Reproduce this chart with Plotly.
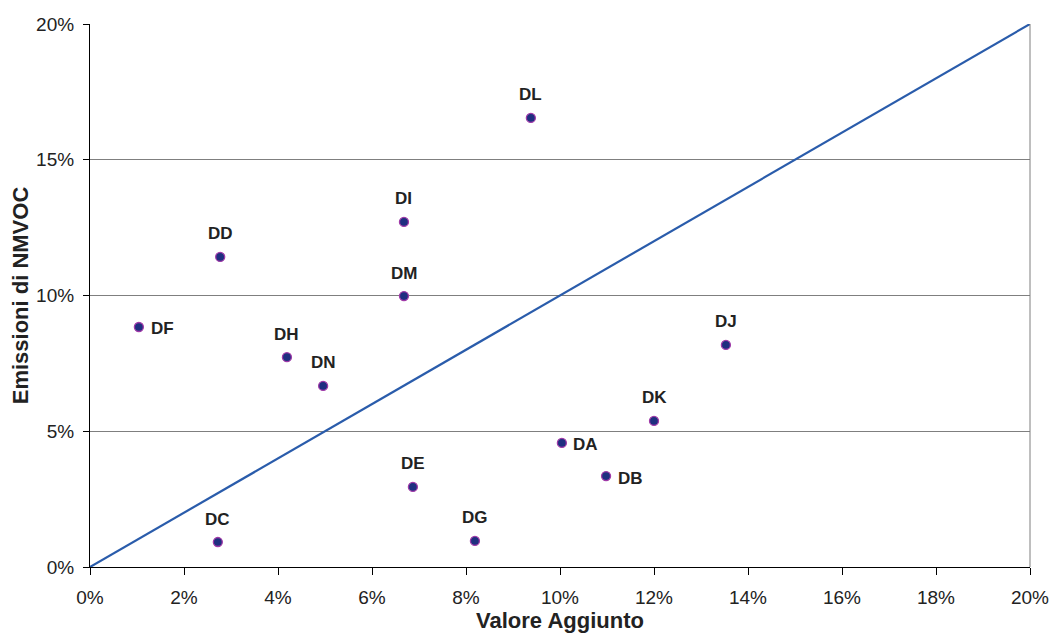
import plotly.graph_objects as go

sectors = ["DL", "DI", "DD", "DM", "DF", "DH", "DN", "DJ", "DK", "DA", "DB", "DE", "DG", "DC"]
valore_aggiunto = [0.0938, 0.0668, 0.0277, 0.0668, 0.0104, 0.0419, 0.0496, 0.1353, 0.1200, 0.1004, 0.1098, 0.0687, 0.0819, 0.0272]
emissioni_nmvoc = [0.1654, 0.1271, 0.1142, 0.0998, 0.0884, 0.0773, 0.0667, 0.0818, 0.0538, 0.0457, 0.0335, 0.0295, 0.0096, 0.0092]
label_side = ["top", "top", "top", "top", "right", "top", "top", "top", "top", "right", "right", "top", "top", "top"]

fig = go.Figure()

fig.add_trace(go.Scatter(
    x=[0, 0.2], y=[0, 0.2], mode="lines",
    line=dict(color="#2a5cab", width=2.2), hoverinfo="skip", showlegend=False,
))

fig.add_trace(go.Scatter(
    x=valore_aggiunto, y=emissioni_nmvoc, mode="markers",
    marker=dict(size=9, color="#1f2f80", line=dict(color="#a03aa8", width=1.3)),
    showlegend=False,
))

for name, xv, yv, side in zip(sectors, valore_aggiunto, emissioni_nmvoc, label_side):
    if side == "top":
        xs, ys = 0, 23
    else:
        xs, ys = 24, -2
    fig.add_annotation(x=xv, y=yv, text="<b>" + name + "</b>", showarrow=False, xshift=xs, yshift=ys,
                       font=dict(family="Liberation Sans, Arial", size=17, color="#222222"))

fig.add_shape(type="line", xref="paper", yref="paper", x0=1, x1=1, y0=0, y1=1,
              line=dict(color="#7f7f7f", width=1))

fig.update_layout(
    autosize=True,
    margin=dict(l=90, r=22, t=24, b=66, autoexpand=False),
    paper_bgcolor="white", plot_bgcolor="white",
    font=dict(family="Liberation Sans, Arial", color="#222222"),
)

fig.update_xaxes(
    range=[0, 0.2], dtick=0.02, tickformat=".0%", automargin=False,
    showgrid=False, zeroline=False,
    showline=True, linecolor="#000000", linewidth=1.2,
    ticks="outside", ticklen=7, tickcolor="#000000",
    ticklabelstandoff=6,
    tickfont=dict(size=19, color="#222222"),
    title=dict(text="<b>Valore Aggiunto</b>", font=dict(size=22, color="#222222"), standoff=6),
)
fig.update_yaxes(
    range=[0, 0.2], dtick=0.05, tickformat=".0%", automargin=False,
    showgrid=True, gridcolor="#7f7f7f", gridwidth=1, zeroline=False,
    showline=True, linecolor="#000000", linewidth=1.2,
    ticks="outside", ticklen=6, tickcolor="#000000",
    ticklabelstandoff=5,
    tickfont=dict(size=19, color="#222222"),
    title=dict(text="<b>Emissioni di NMVOC</b>", font=dict(size=22, color="#222222"), standoff=1),
)

post = (
    "document.documentElement.style.height='100%';"
    "document.body.style.height='100%';"
    "document.body.style.margin='0';"
    "document.body.style.overflow='hidden';"
    "var gd=document.getElementById('{plot_id}');"
    "gd.parentElement.style.height='100%';"
    "gd.style.height='100%';gd.style.width='100%';"
    "Plotly.Plots.resize(gd);"
)

fig.write_html("out.html", default_width="100%", default_height="100%",
               config={"displayModeBar": False, "responsive": True}, post_script=post)
